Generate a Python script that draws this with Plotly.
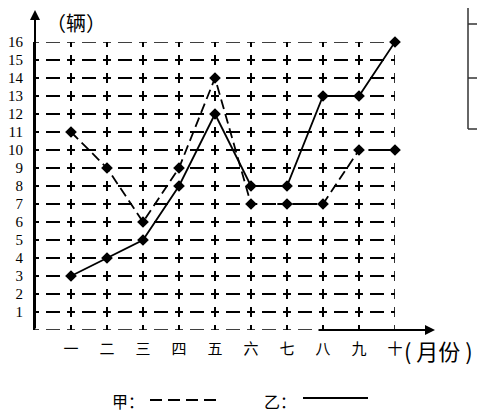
import plotly.graph_objects as go

# data
months = [1, 2, 3, 4, 5, 6, 7, 8, 9, 10]
month_labels = ["一", "二", "三", "四", "五", "六", "七", "八", "九", "十"]
jia = [11, 9, 6, 9, 14, 7, 7, 7, 10, 10]   # 甲, dashed
yi = [3, 4, 5, 8, 12, 8, 8, 13, 13, 16]    # 乙, solid
y_ticks = list(range(1, 17))

# the page body has an 8px margin, so the figure is made 8px smaller
OFF = 8
W, H = 485 - OFF, 416 - OFF
L, T = 35 - OFF, 42 - OFF
PW, PH = 360, 288
R, B = W - L - PW, H - T - PH

HDASH = "4px,7px,14px,7px,4px,0px"   # horizontal grid, one month per period
VDASH = "5px,8px,5px,0px"            # vertical grid, one unit per period


# page pixel -> paper coords
def px(x):
    return (x - OFF - L) / PW


def py(y):
    return (H - B - (y - OFF)) / PH


CJK = "Noto Sans CJK SC"
SERIF = "Liberation Serif"

fig = go.Figure()

fig.add_trace(go.Scatter(x=months, y=jia, mode="lines+markers",
                         line=dict(color="black", width=1.8, dash="10px,5px"),
                         marker=dict(symbol="diamond", size=9, color="black"),
                         cliponaxis=False, showlegend=False))
fig.add_trace(go.Scatter(x=months, y=yi, mode="lines+markers",
                         line=dict(color="black", width=1.8),
                         marker=dict(symbol="diamond", size=9, color="black"),
                         cliponaxis=False, showlegend=False))

fig.update_layout(
    width=W, height=H,
    margin=dict(l=L, r=R, t=T, b=B),
    plot_bgcolor="white", paper_bgcolor="white",
    xaxis=dict(range=[0, 10], tickvals=months, ticktext=month_labels,
               showgrid=True, gridcolor="black", gridwidth=1.6,
               griddash=VDASH, automargin=False,
               zeroline=False, showline=False, ticks="",
               tickfont=dict(family=CJK, size=15, color="black"),
               ticklabelstandoff=8),
    yaxis=dict(range=[0, 16], tickvals=y_ticks,
               showgrid=True, gridcolor="black", gridwidth=1.6,
               griddash=HDASH, automargin=False,
               zeroline=False, showline=True, linecolor="black", linewidth=2,
               ticks="", tickfont=dict(family=SERIF, size=15, color="black"),
               ticklabelstandoff=7),
)

# grid lines on the plot edges (plotly drops them)
for x0, x1, y0, y1, d in [(0, 10, 16, 16, HDASH), (0, 10, 0, 0, HDASH),
                          (10, 10, 16, 0, VDASH)]:
    fig.add_shape(type="line", xref="x", yref="y", x0=x0, x1=x1, y0=y0, y1=y1,
                  layer="below", line=dict(color="black", width=1.6, dash=d))

# axis arrows
fig.add_annotation(xref="paper", yref="paper", x=0, y=py(10), ax=0, ay=320,
                   text="", showarrow=True, arrowhead=2, arrowsize=1,
                   arrowwidth=2, arrowcolor="black", standoff=0)
fig.add_annotation(xref="paper", yref="paper", x=px(435), y=0, ax=-118, ay=0,
                   text="", showarrow=True, arrowhead=2, arrowsize=1,
                   arrowwidth=2, arrowcolor="black", standoff=0)


def label(text, x, y, size, anchor="center"):
    fig.add_annotation(xref="paper", yref="paper", x=px(x), y=py(y),
                       xanchor=anchor, yanchor="middle", text=text,
                       showarrow=False,
                       font=dict(family=CJK, size=size, color="black"))


# axis titles
label("（辆）", 76, 23, 20)
label("( 月份 )", 402, 350, 22, anchor="left")

# legend
label("甲：", 128, 401, 16)
fig.add_shape(type="line", xref="paper", yref="paper",
              x0=px(150), x1=px(220), y0=py(400), y1=py(400),
              line=dict(color="black", width=2, dash="12px,6px"))
label("乙：", 280, 401, 16)
fig.add_shape(type="line", xref="paper", yref="paper",
              x0=px(303), x1=px(368), y0=py(398), y1=py(398),
              line=dict(color="black", width=2))

# fragment of a table at the top right
for y0, y1, x0, x1 in [(0, 129, 468, 468), (129, 129, 468, 485),
                       (24, 24, 468, 485), (78, 78, 468, 485)]:
    fig.add_shape(type="line", xref="paper", yref="paper",
                  x0=px(x0), x1=px(x1), y0=py(y0), y1=py(y1),
                  line=dict(color="#333", width=1.5))

fig.write_html("out.html")
